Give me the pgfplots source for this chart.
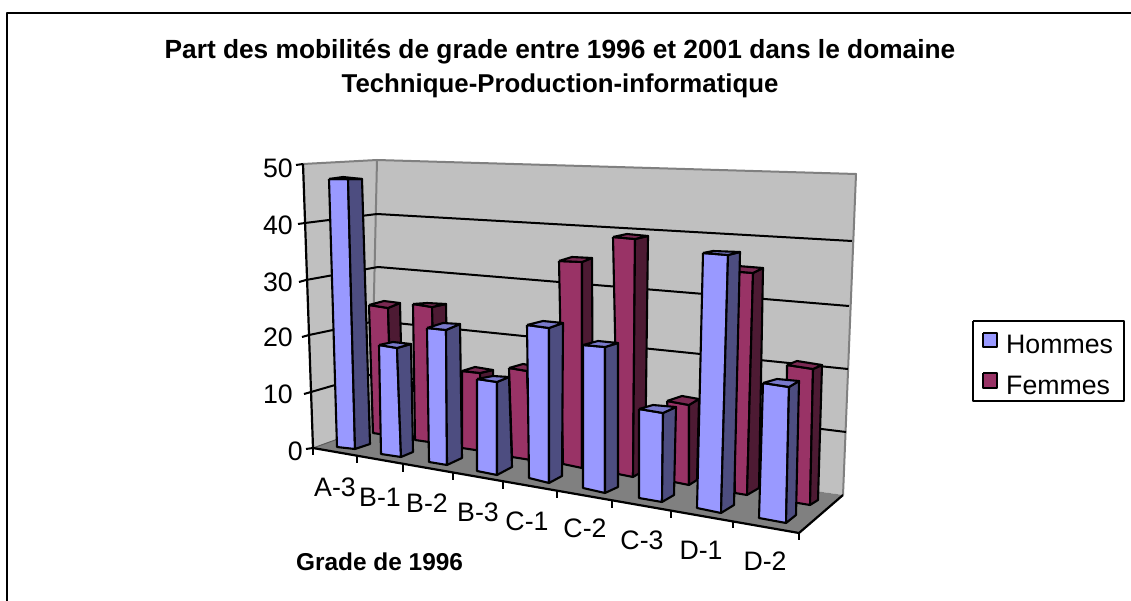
\documentclass[border=0pt]{standalone}
\usepackage{pgfplots}
\pgfplotsset{compat=1.18}
\usepackage{fontspec}
\setmainfont{Liberation Sans}
\definecolor{hf}{HTML}{9999FF}\definecolor{hs}{HTML}{4D4D80}\definecolor{ht}{HTML}{7A7ACC}
\definecolor{ff}{HTML}{993366}\definecolor{fs}{HTML}{4D1A33}\definecolor{ft}{HTML}{7A2952}
\definecolor{wallc}{HTML}{C0C0C0}\definecolor{floorc}{HTML}{808080}
\pgfplotsset{
 face/.style={fill=#1,draw=black,line width=2.1pt},
 grid line/.style={black,line width=2pt},
 tick line/.style={black,line width=2pt}}
\begin{document}
\begin{tikzpicture}
\begin{axis}[scale only axis,width=1131pt,height=601pt,xmin=0,xmax=1131,ymin=0,ymax=601,y dir=reverse,
 axis lines=none,clip=true,
 every axis plot/.append style={line join=round,forget plot}]
\addplot[white,line width=0pt] coordinates {(0,0)(1131,0)(1131,601)(0,601)(0,0)};
% walls and floor
\addplot[fill=wallc,draw=none] coordinates {(303,164)(377,160)(371,427)(313,448)(303,164)};
\addplot[fill=wallc,draw=none] coordinates {(377,160)(856,174)(843,495)(371,427)(377,160)};
\addplot[fill=floorc,draw=none] coordinates {(313,448)(371,427)(843,495)(799,533)(313,448)};
\addplot[draw=floorc,line width=2pt] coordinates {(303,164)(377,160)(856,174)(843,495)};
\addplot[draw=floorc,line width=2pt] coordinates {(377,160)(371,427)};
% gridlines 10..40
\addplot[grid line] coordinates {(305,223)(377,214)(852,241)};
\addplot[grid line] coordinates {(306,280)(378,267)(849,306)};
\addplot[grid line] coordinates {(309,335)(376,321)(848,369)};
\addplot[grid line] coordinates {(311,392)(373,374)(846,432)};
\addplot[draw=floorc!70!black,line width=1pt] coordinates {(313,448)(371,427)};
% axes and ticks
\addplot[black,line width=2.2pt] coordinates {(303,164)(313,448)};
\addplot[black,line width=2.2pt] coordinates {(313,448)(799,533)(843,495)};
\addplot[tick line] coordinates {(296,165)(303,164)};
\addplot[tick line] coordinates {(298,224)(305,223)};
\addplot[tick line] coordinates {(299,282)(306,280)};
\addplot[tick line] coordinates {(302,337)(309,335)};
\addplot[tick line] coordinates {(304,394)(311,392)};
\addplot[tick line] coordinates {(306,449)(313,448)};
\addplot[tick line] coordinates {(313,448)(313,455)};
\addplot[tick line] coordinates {(357,456)(357,463)};
\addplot[tick line] coordinates {(403,464)(403,472)};
\addplot[tick line] coordinates {(453,473)(453,480)};
\addplot[tick line] coordinates {(503,481)(503,489)};
\addplot[tick line] coordinates {(557,491)(557,498)};
\addplot[tick line] coordinates {(612,500)(612,508)};
\addplot[tick line] coordinates {(671,510)(671,518)};
\addplot[tick line] coordinates {(733,521)(733,528)};
\addplot[tick line] coordinates {(799,533)(799,540)};
% Femmes (back row): values about 21 21 10 11 31 37 6 31 14
% faces are listed front, side, top for each bar
\addplot[face=ff] coordinates {(369,305)(388,308)(392,436)(373,433)(369,305)};
\addplot[face=fs] coordinates {(388,308)(400,303)(403,431)(392,436)(388,308)};
\addplot[face=ft] coordinates {(369,305)(384,301)(400,303)(388,308)(369,305)};
\addplot[face=ff] coordinates {(413,304)(432,307)(436,443)(415,440)(413,304)};
\addplot[face=fs] coordinates {(432,307)(446,304)(448,438)(436,443)(432,307)};
\addplot[face=ft] coordinates {(413,304)(427,303)(446,304)(432,307)(413,304)};
\addplot[face=ff] coordinates {(462,371)(480,373)(482,451)(462,448)(462,371)};
\addplot[face=fs] coordinates {(480,373)(493,370)(495,446)(482,451)(480,373)};
\addplot[face=ft] coordinates {(462,371)(475,367)(493,370)(480,373)(462,371)};
\addplot[face=ff] coordinates {(509,368)(527,371)(531,460)(512,457)(509,368)};
\addplot[face=fs] coordinates {(527,371)(540,367)(543,455)(531,460)(527,371)};
\addplot[face=ft] coordinates {(509,368)(523,364)(540,367)(527,371)(509,368)};
\addplot[face=ff] coordinates {(559,261)(582,262)(582,468)(563,464)(559,261)};
\addplot[face=fs] coordinates {(582,262)(592,258)(593,462)(582,468)(582,262)};
\addplot[face=ft] coordinates {(559,261)(572,257)(592,258)(582,262)(559,261)};
\addplot[face=ff] coordinates {(613,237)(635,239)(633,477)(618,474)(613,237)};
\addplot[face=fs] coordinates {(635,239)(648,236)(645,470)(633,477)(635,239)};
\addplot[face=ft] coordinates {(613,237)(627,234)(648,236)(635,239)(613,237)};
\addplot[face=ff] coordinates {(667,401)(689,405)(689,485)(674,482)(667,401)};
\addplot[face=fs] coordinates {(689,405)(699,399)(697,480)(689,485)(689,405)};
\addplot[face=ft] coordinates {(667,401)(682,396)(699,399)(689,405)(667,401)};
\addplot[face=ff] coordinates {(729,271)(753,273)(747,495)(735,493)(729,271)};
\addplot[face=fs] coordinates {(753,273)(763,268)(759,488)(747,495)(753,273)};
\addplot[face=ft] coordinates {(729,271)(738,266)(763,268)(753,273)(729,271)};
\addplot[face=ff] coordinates {(787,365)(813,369)(810,505)(786,501)(787,365)};
\addplot[face=fs] coordinates {(813,369)(822,365)(818,500)(810,505)(813,369)};
\addplot[face=ft] coordinates {(787,365)(797,361)(822,365)(813,369)(787,365)};
% Hommes (front row): values about 48 20 24 14 26 23 11 39 18
\addplot[face=hf] coordinates {(329,179)(348,179)(355,449)(337,447)(329,179)};
\addplot[face=hs] coordinates {(348,179)(362,179)(370,444)(355,449)(348,179)};
\addplot[face=ht] coordinates {(329,179)(343,177)(362,179)(348,179)(329,179)};
\addplot[face=hf] coordinates {(379,345)(397,348)(401,457)(381,454)(379,345)};
\addplot[face=hs] coordinates {(397,348)(411,344)(413,452)(401,457)(397,348)};
\addplot[face=ht] coordinates {(379,345)(393,342)(411,344)(397,348)(379,345)};
\addplot[face=hf] coordinates {(427,328)(446,330)(447,465)(429,462)(427,328)};
\addplot[face=hs] coordinates {(446,330)(460,324)(462,458)(447,465)(446,330)};
\addplot[face=ht] coordinates {(427,328)(443,323)(460,324)(446,330)(427,328)};
\addplot[face=hf] coordinates {(477,379)(497,382)(497,475)(477,471)(477,379)};
\addplot[face=hs] coordinates {(497,382)(509,377)(512,467)(497,475)(497,382)};
\addplot[face=ht] coordinates {(477,379)(493,376)(509,377)(497,382)(477,379)};
\addplot[face=hf] coordinates {(527,325)(549,328)(549,483)(529,478)(527,325)};
\addplot[face=hs] coordinates {(549,328)(563,323)(562,476)(549,483)(549,328)};
\addplot[face=ht] coordinates {(527,325)(543,321)(563,323)(549,328)(527,325)};
\addplot[face=hf] coordinates {(583,345)(605,347)(605,493)(583,488)(583,345)};
\addplot[face=hs] coordinates {(605,347)(618,343)(618,487)(605,493)(605,347)};
\addplot[face=ht] coordinates {(583,345)(598,341)(618,343)(605,347)(583,345)};
\addplot[face=hf] coordinates {(639,409)(663,413)(662,502)(639,498)(639,409)};
\addplot[face=hs] coordinates {(663,413)(676,407)(674,495)(662,502)(663,413)};
\addplot[face=ht] coordinates {(639,409)(653,405)(676,407)(663,413)(639,409)};
\addplot[face=hf] coordinates {(703,253)(728,255)(721,513)(697,508)(703,253)};
\addplot[face=hs] coordinates {(728,255)(740,252)(734,505)(721,513)(728,255)};
\addplot[face=ht] coordinates {(703,253)(713,251)(740,252)(728,255)(703,253)};
\addplot[face=hf] coordinates {(763,383)(789,387)(786,523)(759,518)(763,383)};
\addplot[face=hs] coordinates {(789,387)(799,381)(796,515)(786,523)(789,387)};
\addplot[face=ht] coordinates {(763,383)(777,379)(799,381)(789,387)(763,383)};
% frame
\addplot[black,line width=2.4pt] coordinates {(7,601)(7,13)(1131,13)};
% legend
\addplot[fill=white,draw=black,line width=2pt] coordinates {(973,321)(1124,321)(1124,401)(973,401)(973,321)};
\addplot[fill=hf,draw=black,line width=2pt] coordinates {(983,333)(997,333)(997,347)(983,347)(983,333)};
\addplot[fill=ff,draw=black,line width=2pt] coordinates {(983,373)(997,373)(997,388)(983,388)(983,373)};
\def\ts{\fontsize{26.7}{30}\selectfont}
\node[anchor=base west,inner sep=0pt] at (axis cs:1006,353) {\ts Hommes};
\node[anchor=base west,inner sep=0pt] at (axis cs:1006,394) {\ts Femmes};
\node[anchor=base,inner sep=0pt] at (axis cs:560,59) {\fontsize{26.3}{30}\selectfont\bfseries Part des mobilités de grade entre 1996 et 2001 dans le domaine};
\node[anchor=base,inner sep=0pt] at (axis cs:560,93) {\fontsize{25.8}{30}\selectfont\bfseries Technique-Production-informatique};
\node[anchor=base west,inner sep=0pt] at (axis cs:296,570) {\fontsize{24.4}{28}\selectfont\bfseries Grade de 1996};
\node[anchor=base east,inner sep=0pt] at (axis cs:293,178) {\ts 50};
\node[anchor=base east,inner sep=0pt] at (axis cs:293,235) {\ts 40};
\node[anchor=base east,inner sep=0pt] at (axis cs:293,291) {\ts 30};
\node[anchor=base east,inner sep=0pt] at (axis cs:293,346) {\ts 20};
\node[anchor=base east,inner sep=0pt] at (axis cs:293,403) {\ts 10};
\node[anchor=base east,inner sep=0pt] at (axis cs:303,460) {\ts 0};
\node[anchor=base,inner sep=0pt] at (axis cs:335,496) {\ts A-3};
\node[anchor=base,inner sep=0pt] at (axis cs:380,506) {\ts B-1};
\node[anchor=base,inner sep=0pt] at (axis cs:427,512) {\ts B-2};
\node[anchor=base,inner sep=0pt] at (axis cs:478,521) {\ts B-3};
\node[anchor=base,inner sep=0pt] at (axis cs:527,530) {\ts C-1};
\node[anchor=base,inner sep=0pt] at (axis cs:585,537) {\ts C-2};
\node[anchor=base,inner sep=0pt] at (axis cs:642,549) {\ts C-3};
\node[anchor=base,inner sep=0pt] at (axis cs:701,559) {\ts D-1};
\node[anchor=base,inner sep=0pt] at (axis cs:765,570) {\ts D-2};
\end{axis}
\end{tikzpicture}
\end{document}
